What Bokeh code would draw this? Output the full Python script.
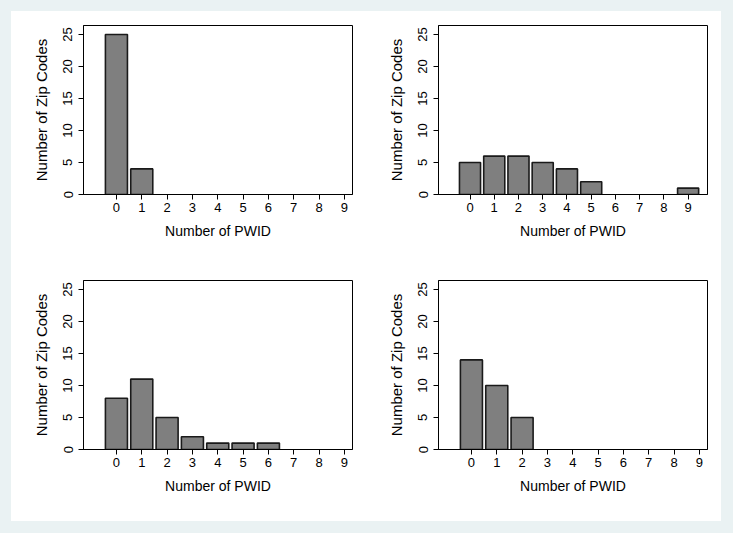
from bokeh.plotting import figure
from bokeh.layouts import gridplot, column
from bokeh.models import Range1d, FixedTicker
from bokeh.embed import file_html
from bokeh.resources import INLINE

# Data
pwid = [0, 1, 2, 3, 4, 5, 6, 7, 8, 9]
zips_top_left = [25, 4, 0, 0, 0, 0, 0, 0, 0, 0]
zips_top_right = [5, 6, 6, 5, 4, 2, 0, 0, 0, 1]
zips_bottom_left = [8, 11, 5, 2, 1, 1, 1, 0, 0, 0]
zips_bottom_right = [14, 10, 5, 0, 0, 0, 0, 0, 0, 0]
y_ticks = [0, 5, 10, 15, 20, 25]
x_label = "Number of PWID"
y_label = "Number of Zip Codes"

FONT = "Liberation Sans"
BAR_FILL = "#7f7f7f"


def make(counts, x_end):
    p = figure(width=355, height=255,
               min_border_left=72, min_border_right=14,
               min_border_top=14, min_border_bottom=72,
               x_range=Range1d(-1.3, x_end), y_range=Range1d(0, 26.4),
               output_backend="svg", toolbar_location=None,
               background_fill_color="white", border_fill_color="white")
    xs = [x for x, c in zip(pwid, counts) if c > 0]
    cs = [c for c in counts if c > 0]
    p.vbar(x=xs, top=cs, bottom=0, width=0.87, fill_color=BAR_FILL,
           line_color="#1a1a1a", line_width=1.6)
    p.xgrid.visible = False
    p.ygrid.visible = False
    p.outline_line_color = "black"
    p.outline_line_width = 1
    for ax in (p.xaxis[0], p.yaxis[0]):
        ax.axis_line_color = "black"
        ax.axis_line_width = 1
        ax.major_tick_line_color = "black"
        ax.major_tick_out = 5
        ax.major_tick_in = 0
        ax.minor_tick_line_color = None
        ax.major_label_text_font = FONT
        ax.major_label_text_font_size = "13px"
        ax.major_label_text_color = "black"
        ax.axis_label_text_font = FONT
        ax.axis_label_text_font_style = "normal"
        ax.axis_label_text_color = "black"
    p.xaxis.ticker = FixedTicker(ticks=pwid)
    p.yaxis.ticker = FixedTicker(ticks=y_ticks)
    p.xaxis.axis_label = x_label
    p.yaxis.axis_label = y_label
    p.xaxis.axis_label_text_font_size = "14px"
    p.yaxis.axis_label_text_font_size = "15px"
    p.xaxis.major_label_standoff = 3
    p.xaxis.axis_label_standoff = 8
    p.yaxis.major_label_orientation = "vertical"
    p.yaxis.major_label_standoff = 6
    p.yaxis.axis_label_standoff = 11
    return p


p1 = make(zips_top_left, 9.32)
p2 = make(zips_top_right, 9.8)
p3 = make(zips_bottom_left, 9.32)
p4 = make(zips_bottom_right, 9.32)

grid = gridplot([[p1, p2], [p3, p4]], toolbar_location=None)
grid.styles = {"background-color": "white"}
layout = column(grid, width=733, height=533, sizing_mode="fixed",
                styles={"background-color": "#eaf2f3",
                        "padding": "11px 12px 12px 11px",
                        "box-sizing": "border-box"})

open("out.html", "w").write(file_html(layout, INLINE))
